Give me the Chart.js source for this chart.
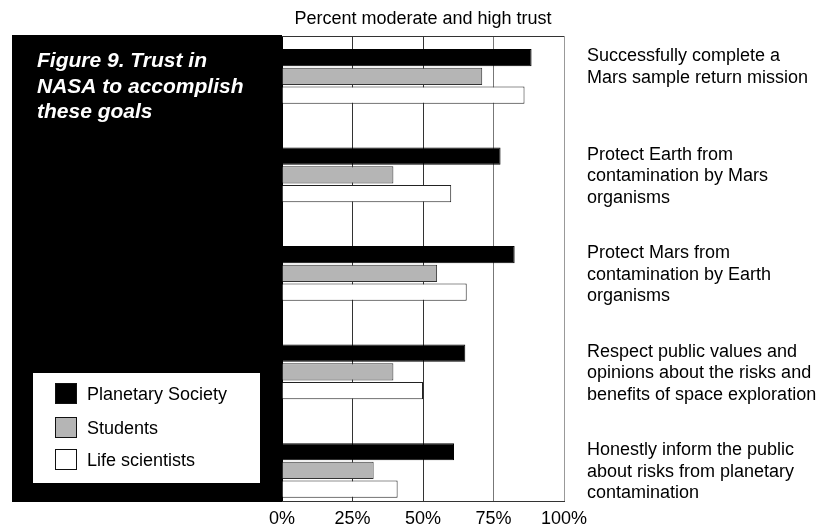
<!DOCTYPE html>
<html>
<head>
<meta charset="utf-8">
<script src="https://cdn.jsdelivr.net/npm/chart.js@4"></script>
<style>
  body { margin: 0; background: #fff; }
  #wrap { width: 835px; height: 527px; }
</style>
</head>
<body>
<div id="wrap"><canvas id="myChart" width="835" height="527"></canvas></div>
<script>
const categories = [
    ["Successfully complete a", "Mars sample return mission"],
    ["Protect Earth from", "contamination by Mars", "organisms"],
    ["Protect Mars from", "contamination by Earth", "organisms"],
    ["Respect public values and", "opinions about the risks and", "benefits of space exploration"],
    ["Honestly inform the public", "about risks from planetary", "contamination"]
];
const seriesNames = ["Planetary Society", "Students", "Life scientists"];
const planetarySociety = [88.5, 77.5, 82.5, 65, 61];
const students = [71, 39.5, 55, 39.5, 32.5];
const lifeScientists = [86, 60, 65.5, 50, 41];
const tickValues = [0, 25, 50, 75, 100];
const tickLabels = ["0%", "25%", "50%", "75%", "100%"];
const chartTitle = "Percent moderate and high trust";
const figureTitle = ["Figure 9. Trust in", "NASA to accomplish", "these goals"];

const font = "'Liberation Sans', Arial, sans-serif";

function toPoints(values) {
    return values.map((v, i) => ({ x: v, y: i }));
}

// black side panel + top frame line, drawn under the bars
const panelPlugin = {
    id: 'panel',
    beforeDatasetsDraw(chart) {
        const ctx = chart.ctx;
        const a = chart.chartArea;
        ctx.save();
        ctx.fillStyle = '#000';
        ctx.fillRect(12, a.top - 1, a.left - 12, a.bottom - a.top + 2);
        ctx.strokeStyle = '#333';
        ctx.lineWidth = 1;
        ctx.beginPath();
        ctx.moveTo(a.left, a.top + 0.5);
        ctx.lineTo(a.right, a.top + 0.5);
        ctx.stroke();
        ctx.restore();
    },
    afterDraw(chart) {
        const ctx = chart.ctx;
        const a = chart.chartArea;
        const yScale = chart.scales.y;
        ctx.save();

        // figure title in the panel
        ctx.fillStyle = '#fff';
        ctx.font = "italic bold 21px " + font;
        ctx.textBaseline = 'alphabetic';
        ctx.textAlign = 'left';
        figureTitle.forEach((line, i) => {
            ctx.fillText(line, 37, 67 + i * 25.6);
        });

        // legend box
        ctx.fillStyle = '#fff';
        ctx.fillRect(33, 373, 227, 110);
        ctx.font = "18px " + font;
        ctx.textBaseline = 'middle';
        const itemY = [394, 428, 460];
        chart.data.datasets.forEach((ds, i) => {
            ctx.fillStyle = ds.backgroundColor;
            ctx.fillRect(55.5, itemY[i] - 10.5, 21, 20);
            ctx.strokeStyle = '#111';
            ctx.lineWidth = 1;
            ctx.strokeRect(55.5, itemY[i] - 10.5, 21, 20);
            ctx.fillStyle = '#000';
            ctx.fillText(ds.label, 87, itemY[i] + 1);
        });

        // category labels to the right of the plot
        ctx.fillStyle = '#000';
        ctx.font = "18px " + font;
        ctx.textBaseline = 'alphabetic';
        categories.forEach((lines, i) => {
            const yc = yScale.getPixelForValue(i);
            lines.forEach((line, j) => {
                ctx.fillText(line, a.right + 23, yc - 15 + j * 21.5);
            });
        });
        ctx.restore();
    }
};

const gridColors = { 0: '#000', 25: '#333', 50: '#333', 75: '#777', 100: '#999' };

const chart = new Chart(document.getElementById('myChart').getContext('2d'), {
    type: 'bar',
    data: {
        datasets: [{
            label: seriesNames[0],
            data: toPoints(planetarySociety),
            backgroundColor: '#000',
            borderColor: '#000',
            borderWidth: 1
        }, {
            label: seriesNames[1],
            data: toPoints(students),
            backgroundColor: '#b5b5b5',
            borderColor: '#333',
            borderWidth: 1
        }, {
            label: seriesNames[2],
            data: toPoints(lifeScientists),
            backgroundColor: '#fff',
            borderColor: '#222',
            borderWidth: 1
        }]
    },
    options: {
        indexAxis: 'y',
        responsive: false,
        animation: false,
        categoryPercentage: 0.57,
        barPercentage: 0.92,
        layout: { padding: { left: 282, right: 271, top: 0, bottom: -10 } },
        plugins: {
            legend: { display: false },
            tooltip: { enabled: false },
            title: {
                display: true,
                text: chartTitle,
                color: '#000',
                font: { family: font, size: 18, weight: 'normal' },
                padding: { top: 8, bottom: 6.4 }
            }
        },
        scales: {
            x: {
                type: 'linear',
                min: 0,
                max: 100,
                afterBuildTicks: axis => { axis.ticks = tickValues.map(v => ({ value: v })); },
                ticks: {
                    color: '#000',
                    padding: 9,
                    font: { family: font, size: 18, lineHeight: 1.0 },
                    callback: v => tickLabels[tickValues.indexOf(v)]
                },
                grid: {
                    drawTicks: false,
                    tickLength: 0,
                    color: ctx => gridColors[ctx.tick.value] || '#666',
                    lineWidth: 1
                },
                border: { display: true, color: '#333', width: 1 }
            },
            y: {
                type: 'linear',
                reverse: true,
                offset: false,
                min: -0.41,
                max: 4.31,
                display: false,
                afterBuildTicks: axis => { axis.ticks = categories.map((c, i) => ({ value: i })); }
            }
        }
    },
    plugins: [panelPlugin]
});
</script>
</body>
</html>
